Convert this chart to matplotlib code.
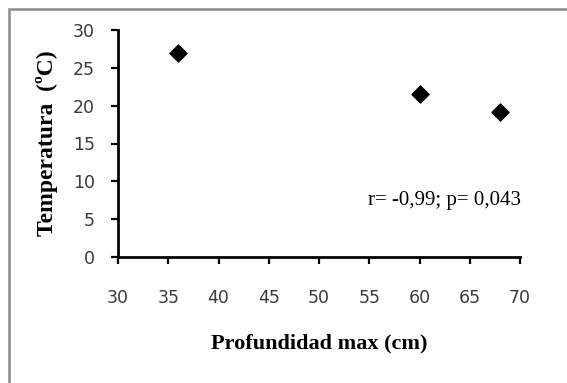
import matplotlib
matplotlib.use('Agg')
import matplotlib.pyplot as plt
from matplotlib.patches import Rectangle

profundidad = [36, 60, 68]
temperatura = [27.0, 21.6, 19.1]
xticks = [30, 35, 40, 45, 50, 55, 60, 65, 70]
yticks = [0, 5, 10, 15, 20, 25, 30]

fig = plt.figure(figsize=(5.67, 3.83), dpi=100)
fig.patches.append(Rectangle((9/567, -0.1), 1.2, 1 - 9/383 + 0.1, transform=fig.transFigure,
                             fill=False, edgecolor='#8a8a8a', linewidth=1.8))
ax = fig.add_axes([118/567, 1 - 257/383, (520 - 118)/567, (257 - 30)/383])

ax.scatter(profundidad, temperatura, marker='D', s=75, color='black', zorder=3)

ax.set_xlim(30, 70)
ax.set_ylim(0, 30)
ax.set_xticks(xticks)
ax.set_yticks(yticks)
for s in ['top', 'right']:
    ax.spines[s].set_visible(False)
for s in ['left', 'bottom']:
    ax.spines[s].set_linewidth(2)
ax.tick_params(axis='both', direction='out', length=5, width=1.6, labelsize=12.5, colors='black')
ax.tick_params(axis='x', pad=18)
ax.tick_params(axis='y', pad=11.5)
for lbl in ax.get_xticklabels() + ax.get_yticklabels():
    lbl.set_color('#3a3a3a')

ax.set_xlabel('Profundidad max (cm)', family='Liberation Serif', fontweight='bold', fontsize=16, labelpad=19)
ax.set_ylabel('Temperatura  (ºC)', family='Liberation Serif', fontweight='bold', fontsize=17, labelpad=11)

ax.text(54.9, 7.5, 'r= -0,99; p= 0,043', family='Liberation Serif', fontsize=15, va='center')

fig.savefig('out.png', dpi=100)
